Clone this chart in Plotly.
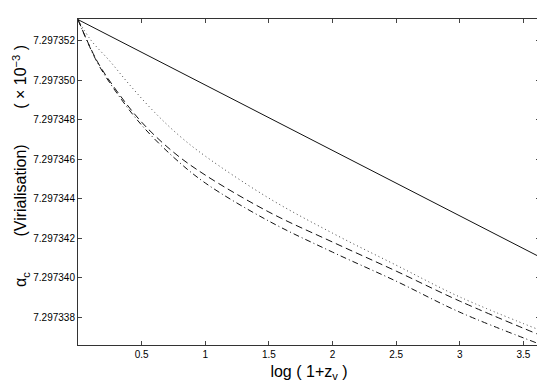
import plotly.graph_objects as go

# values; alpha_c = 7.297 + v * 1e-6
base = 7.297
x_solid = [0.0, 3.63]
v_solid = [353.07, 341.05]

x_dot = [0.0, 0.1, 0.25, 0.4, 0.6, 0.8, 1.0, 1.5, 2.0, 2.5, 3.0, 3.63]
v_dot = [353.07, 352.04, 350.97, 349.81, 348.39, 347.17, 346.16, 344.03, 342.26, 340.64, 339.03, 337.35]

x_dash = [0.0, 0.15, 0.3, 0.5, 0.75, 1.0, 1.5, 2.0, 2.5, 3.0, 3.63]
v_dash = [353.07, 350.97, 349.50, 347.88, 346.36, 345.20, 343.33, 341.81, 340.34, 338.82, 337.10]

x_dashdot = [0.0, 0.15, 0.3, 0.5, 0.75, 1.0, 1.5, 2.0, 2.5, 3.0, 3.63]
v_dashdot = [353.07, 350.92, 349.40, 347.73, 346.11, 344.80, 342.87, 341.30, 339.83, 338.26, 336.64]

x_ticks = [0.5, 1, 1.5, 2, 2.5, 3, 3.5]
x_ticklabels = ["0.5", "1", "1.5", "2", "2.5", "3", "3.5"]
y_tick_offsets = [338, 340, 342, 344, 346, 348, 350, 352]
y_title = ("α<sub>c</sub>" + "\u00a0" * 8 + "(Virialisation)" + "\u00a0" * 8
           + "( × 10<sup>−3</sup> )")


def to_alpha(vals):
    return [base + v * 1e-6 for v in vals]


fig = go.Figure()
series = [
    (x_solid, v_solid, "solid", "#111"),
    (x_dot, v_dot, "1px,3px", "#444"),
    (x_dash, v_dash, "7px,4px", "#111"),
    (x_dashdot, v_dashdot, "6px,3px,1px,3px", "#111"),
]
for xs, vs, style, col in series:
    fig.add_trace(go.Scatter(
        x=xs,
        y=to_alpha(vs),
        mode="lines",
        line=dict(color=col, width=1, dash=style, shape="spline", smoothing=1.0),
        showlegend=False,
    ))

# y title as an annotation so it can sit a little above the box centre
fig.add_annotation(
    text=y_title,
    xref="paper", yref="paper",
    x=-0.125, y=0.55,
    xanchor="center", yanchor="middle",
    textangle=-90,
    showarrow=False,
    font=dict(size=16),
)

# page body adds an 8px offset, so the figure is sized/margined to put the
# plot box at the same window position as the reference
fig.update_layout(
    width=537,
    height=374,
    margin=dict(l=70, r=5, t=11, b=37),
    paper_bgcolor="white",
    plot_bgcolor="white",
    font=dict(family="Liberation Sans, Arial, sans-serif", color="black", size=10),
    xaxis={
        "range": [0, 3.63],
        "tickvals": x_ticks,
        "ticktext": x_ticklabels,
        "ticks": "inside",
        "ticklen": 4,
        "showgrid": False,
        "zeroline": False,
        "showline": True,
        "linecolor": "#333",
        "linewidth": 1,
        "mirror": "allticks",
        "automargin": False,
        "title": {"text": "log ( 1+z<sub>v</sub> )", "font": {"size": 16}, "standoff": 7},
    },
    yaxis={
        "range": [base + 336.6e-6, base + 353.1e-6],
        "tickvals": [base + v * 1e-6 for v in y_tick_offsets],
        "ticktext": [f"7.297{v}" for v in y_tick_offsets],
        "ticks": "inside",
        "ticklen": 4,
        "showgrid": False,
        "zeroline": False,
        "showline": True,
        "linecolor": "#333",
        "linewidth": 1,
        "mirror": "allticks",
        "automargin": False,
    },
)

fig.write_html("out.html")
